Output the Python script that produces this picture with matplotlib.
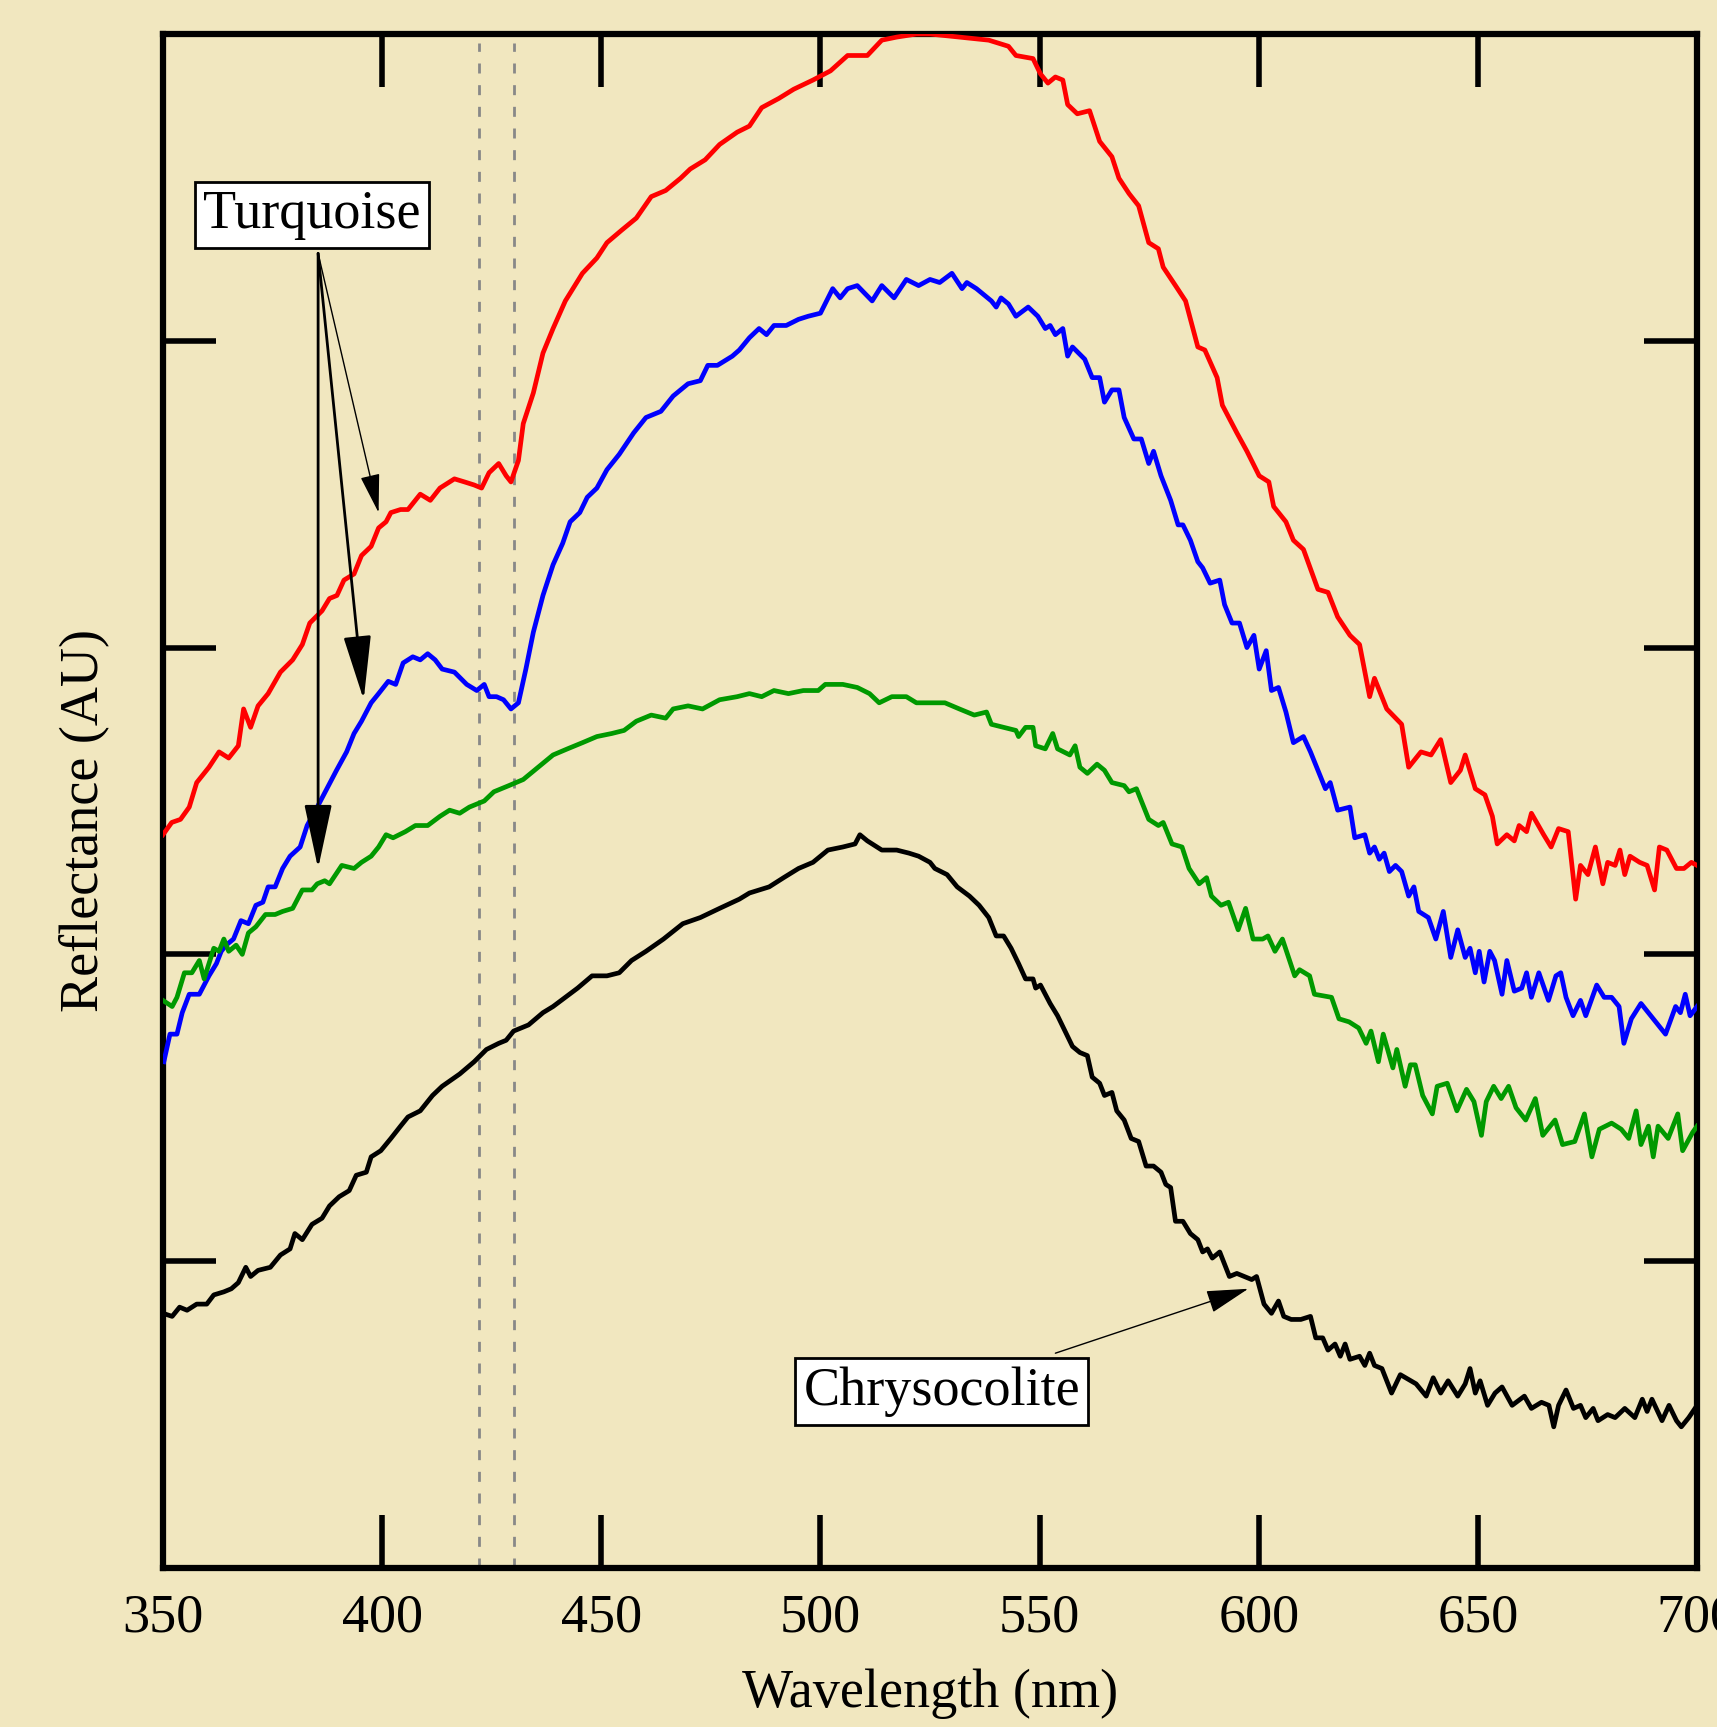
import numpy as np
import matplotlib.pyplot as plt

plt.rcParams['font.family'] = ['Liberation Serif', 'DejaVu Serif']

bg = '#f1e7bf'

# ---- spectra (wavelength nm, reflectance AU) ----
red_x = [350.0, 352.0, 354.0, 356.0, 357.7, 360.5, 362.8, 365.0, 367.2, 368.4,
         370.0, 371.7, 374.0, 376.8, 379.6, 381.8, 383.5, 386.3, 388.0, 389.7,
         391.3, 393.6, 395.3, 397.5, 399.2, 400.9, 402.0, 404.2, 405.9, 408.7,
         411.0, 413.2, 416.5, 418.8, 421.0, 422.7, 424.4, 426.6, 428.3, 429.4,
         431.1, 432.2, 434.5, 436.7, 439.0, 441.8, 445.7, 449.0, 451.3, 454.6,
         458.0, 461.4, 464.7, 468.1, 470.3, 473.7, 477.0, 481.0, 483.8, 486.6,
         490.5, 493.9, 498.3, 502.3, 506.2, 510.7, 514.0, 517.4, 521.9, 525.0,
         531.7, 538.4, 542.9, 544.6, 548.5, 550.2, 551.9, 553.6, 555.3, 556.4,
         558.6, 561.4, 563.7, 566.5, 568.1, 570.4, 572.6, 574.9, 577.1, 578.2,
         581.0, 583.3, 586.1, 587.7, 590.5, 591.7, 595.0, 597.3, 600.1, 602.3,
         603.4, 606.2, 607.9, 610.2, 613.5, 615.8, 618.0, 620.8, 623.0, 625.3,
         626.4, 629.2, 632.6, 634.2, 637.0, 639.3, 641.5, 643.8, 646.0, 647.1,
         649.4, 651.6, 653.3, 654.4, 656.6, 658.3, 659.4, 661.1, 662.2, 665.0,
         666.7, 668.4, 670.6, 672.3, 673.4, 675.1, 676.8, 678.5, 679.6, 681.3,
         682.4, 683.5, 684.7, 686.9, 688.6, 690.3, 691.4, 693.1, 695.3, 697.0,
         698.7, 700.0]
red_y = [2.39, 2.43, 2.44, 2.48, 2.56, 2.61, 2.66, 2.64, 2.68, 2.80,
         2.74, 2.81, 2.85, 2.92, 2.96, 3.01, 3.08, 3.12, 3.16, 3.17,
         3.22, 3.24, 3.30, 3.33, 3.39, 3.41, 3.44, 3.45, 3.45, 3.50,
         3.48, 3.52, 3.55, 3.54, 3.53, 3.52, 3.57, 3.60, 3.56, 3.54,
         3.61, 3.73, 3.83, 3.96, 4.04, 4.13, 4.22, 4.27, 4.32, 4.36,
         4.40, 4.47, 4.49, 4.53, 4.56, 4.59, 4.64, 4.68, 4.70, 4.76,
         4.79, 4.82, 4.85, 4.88, 4.93, 4.93, 4.98, 4.99, 5.00, 5.00,
         4.99, 4.98, 4.96, 4.93, 4.92, 4.87, 4.84, 4.86, 4.85, 4.77,
         4.74, 4.75, 4.65, 4.60, 4.53, 4.48, 4.44, 4.32, 4.30, 4.24,
         4.18, 4.13, 3.98, 3.97, 3.88, 3.79, 3.70, 3.64, 3.56, 3.54,
         3.46, 3.41, 3.35, 3.32, 3.19, 3.18, 3.10, 3.04, 3.01, 2.84,
         2.90, 2.80, 2.75, 2.61, 2.66, 2.65, 2.70, 2.56, 2.60, 2.65,
         2.54, 2.52, 2.45, 2.36, 2.39, 2.37, 2.42, 2.40, 2.46, 2.39,
         2.35, 2.41, 2.40, 2.18, 2.29, 2.26, 2.35, 2.23, 2.30, 2.29,
         2.34, 2.26, 2.32, 2.30, 2.29, 2.21, 2.35, 2.34, 2.28, 2.28,
         2.30, 2.29]

blue_x = [350.2, 351.6, 353.2, 354.4, 356.0, 358.3, 360.5, 362.2, 363.3, 364.4,
          366.1, 367.8, 369.5, 371.2, 372.8, 374.0, 375.6, 377.3, 379.0, 381.3,
          382.9, 385.2, 387.4, 389.6, 391.9, 393.6, 395.3, 397.5, 399.2, 401.4,
          403.1, 404.8, 407.0, 408.7, 410.4, 412.1, 413.7, 416.5, 419.3, 421.6,
          423.3, 424.4, 426.1, 427.7, 429.4, 431.1, 432.8, 434.5, 436.7, 439.0,
          441.2, 442.9, 445.1, 446.8, 449.0, 451.3, 454.1, 457.4, 460.2, 463.6,
          466.4, 469.8, 472.6, 474.3, 476.5, 479.9, 481.5, 483.8, 486.0, 487.7,
          489.4, 492.2, 495.0, 497.2, 500.0, 502.8, 504.5, 506.2, 508.4, 511.8,
          514.0, 516.8, 519.6, 522.4, 525.0, 527.2, 530.0, 532.3, 533.4, 535.6,
          539.0, 540.1, 541.2, 542.9, 544.6, 547.4, 549.6, 551.3, 552.4, 553.6,
          555.3, 556.4, 557.5, 560.3, 562.0, 563.7, 564.8, 566.5, 568.1, 569.3,
          571.5, 573.2, 574.9, 576.0, 577.7, 579.9, 581.6, 582.7, 584.4, 586.1,
          587.2, 588.9, 591.1, 592.2, 593.9, 595.6, 597.3, 598.9, 600.1, 601.7,
          602.9, 604.5, 606.2, 607.9, 610.2, 611.8, 613.5, 615.2, 616.3, 618.0,
          620.8, 621.9, 624.2, 625.3, 626.4, 627.5, 628.6, 629.8, 631.2, 632.6,
          634.2, 635.4, 636.5, 638.7, 640.4, 642.1, 643.8, 645.4, 647.1, 648.2,
          649.4, 650.3, 651.4, 652.7, 653.8, 655.5, 656.6, 658.3, 660.0, 661.1,
          662.2, 663.9, 666.1, 667.8, 668.9, 670.1, 671.7, 673.4, 674.6, 677.1,
          678.8, 680.5, 682.2, 683.3, 685.0, 687.2, 690.0, 692.8, 695.1, 696.2,
          697.3, 698.4, 700.0]
blue_y = [1.65, 1.74, 1.74, 1.81, 1.87, 1.87, 1.93, 1.97, 2.01, 2.03,
          2.05, 2.11, 2.10, 2.16, 2.17, 2.22, 2.22, 2.28, 2.32, 2.35,
          2.42, 2.48, 2.54, 2.60, 2.66, 2.72, 2.76, 2.82, 2.85, 2.89,
          2.88, 2.95, 2.97, 2.96, 2.98, 2.96, 2.93, 2.92, 2.88, 2.86,
          2.88, 2.84, 2.84, 2.83, 2.80, 2.82, 2.93, 3.05, 3.17, 3.27,
          3.34, 3.41, 3.44, 3.49, 3.52, 3.58, 3.63, 3.70, 3.75, 3.77,
          3.82, 3.86, 3.87, 3.92, 3.92, 3.95, 3.97, 4.01, 4.04, 4.02,
          4.05, 4.05, 4.07, 4.08, 4.09, 4.17, 4.14, 4.17, 4.18, 4.13,
          4.18, 4.14, 4.20, 4.18, 4.20, 4.19, 4.22, 4.17, 4.19, 4.17,
          4.13, 4.11, 4.14, 4.12, 4.08, 4.11, 4.08, 4.04, 4.05, 4.02,
          4.04, 3.95, 3.98, 3.94, 3.88, 3.88, 3.80, 3.84, 3.84, 3.75,
          3.68, 3.68, 3.60, 3.64, 3.56, 3.48, 3.40, 3.40, 3.35, 3.28,
          3.26, 3.21, 3.22, 3.14, 3.08, 3.08, 3.00, 3.04, 2.93, 2.99,
          2.86, 2.87, 2.79, 2.69, 2.71, 2.66, 2.60, 2.54, 2.56, 2.47,
          2.48, 2.38, 2.39, 2.33, 2.35, 2.31, 2.33, 2.27, 2.29, 2.27,
          2.19, 2.22, 2.14, 2.12, 2.05, 2.14, 1.99, 2.08, 1.99, 2.02,
          1.94, 2.01, 1.91, 2.01, 1.98, 1.87, 1.98, 1.88, 1.89, 1.94,
          1.86, 1.94, 1.85, 1.93, 1.94, 1.86, 1.80, 1.85, 1.80, 1.90,
          1.86, 1.86, 1.83, 1.71, 1.79, 1.84, 1.79, 1.74, 1.83, 1.81,
          1.87, 1.80, 1.83]

green_x = [350.0, 352.1, 353.2, 354.9, 356.6, 358.3, 359.4, 361.6, 362.8, 363.9,
           365.0, 366.7, 368.1, 369.5, 371.2, 373.4, 375.6, 377.3, 379.6, 381.8,
           384.0, 385.2, 386.9, 388.0, 390.8, 393.6, 395.3, 397.5, 399.2, 400.9,
           402.5, 405.3, 407.6, 410.4, 413.2, 415.4, 417.7, 419.9, 423.3, 425.5,
           428.9, 432.2, 435.6, 439.0, 442.3, 445.7, 449.0, 452.4, 455.2, 458.0,
           461.4, 464.7, 466.4, 469.8, 473.1, 477.0, 481.0, 483.8, 486.6, 489.4,
           492.7, 496.1, 499.5, 501.1, 505.1, 508.4, 511.2, 513.4, 516.3, 519.6,
           521.9, 525.0, 528.4, 531.7, 535.1, 537.9, 539.0, 541.8, 544.6, 545.2,
           546.8, 548.5, 549.1, 551.3, 553.0, 554.1, 556.9, 558.1, 559.2, 560.9,
           563.1, 564.8, 566.5, 569.3, 570.4, 572.1, 573.5, 574.9, 577.1, 578.2,
           580.2, 582.5, 584.1, 586.4, 588.1, 589.2, 591.4, 593.1, 595.3, 597.0,
           598.7, 600.9, 602.1, 603.7, 605.4, 608.2, 609.3, 611.6, 612.7, 616.6,
           618.3, 620.6, 622.8, 624.5, 625.6, 627.3, 628.4, 630.6, 631.5, 633.4,
           634.6, 635.7, 637.4, 639.6, 640.7, 643.0, 645.2, 647.4, 649.1, 650.8,
           651.9, 653.6, 655.3, 657.0, 658.7, 660.9, 663.1, 664.8, 667.6, 669.3,
           672.1, 674.3, 676.0, 677.7, 680.5, 682.7, 684.4, 686.1, 687.2, 688.9,
           690.0, 691.1, 693.4, 695.6, 696.7, 699.0, 700.0]
green_y = [1.85, 1.83, 1.86, 1.94, 1.94, 1.98, 1.92, 2.02, 2.01, 2.05,
           2.01, 2.03, 2.00, 2.07, 2.09, 2.13, 2.13, 2.14, 2.15, 2.21,
           2.21, 2.23, 2.24, 2.23, 2.29, 2.28, 2.30, 2.32, 2.35, 2.39,
           2.38, 2.40, 2.42, 2.42, 2.45, 2.47, 2.46, 2.48, 2.50, 2.53,
           2.55, 2.57, 2.61, 2.65, 2.67, 2.69, 2.71, 2.72, 2.73, 2.76,
           2.78, 2.77, 2.80, 2.81, 2.80, 2.83, 2.84, 2.85, 2.84, 2.86,
           2.85, 2.86, 2.86, 2.88, 2.88, 2.87, 2.85, 2.82, 2.84, 2.84,
           2.82, 2.82, 2.82, 2.80, 2.78, 2.79, 2.75, 2.74, 2.73, 2.71,
           2.74, 2.74, 2.68, 2.67, 2.72, 2.67, 2.65, 2.68, 2.61, 2.59,
           2.62, 2.60, 2.56, 2.55, 2.53, 2.54, 2.49, 2.44, 2.42, 2.43,
           2.36, 2.35, 2.28, 2.23, 2.25, 2.19, 2.16, 2.17, 2.08, 2.15,
           2.05, 2.05, 2.06, 2.01, 2.05, 1.93, 1.95, 1.93, 1.87, 1.86,
           1.79, 1.78, 1.76, 1.71, 1.75, 1.65, 1.74, 1.63, 1.69, 1.57,
           1.64, 1.64, 1.54, 1.48, 1.57, 1.58, 1.49, 1.56, 1.52, 1.41,
           1.52, 1.57, 1.53, 1.57, 1.50, 1.46, 1.53, 1.41, 1.46, 1.38,
           1.39, 1.48, 1.34, 1.43, 1.45, 1.43, 1.40, 1.49, 1.38, 1.44,
           1.34, 1.44, 1.40, 1.48, 1.36, 1.42, 1.44]

black_x = [350.0, 352.1, 353.8, 355.5, 357.7, 360.0, 361.6, 363.9, 365.6, 367.2,
           368.9, 370.0, 371.7, 374.5, 376.8, 379.0, 380.1, 381.8, 384.0, 386.3,
           388.0, 390.2, 392.5, 394.1, 396.4, 397.5, 399.7, 402.0, 404.2, 405.9,
           408.7, 411.5, 413.7, 417.7, 421.0, 423.8, 426.6, 428.3, 430.0, 433.4,
           436.7, 439.0, 441.8, 444.6, 447.9, 451.3, 454.1, 456.9, 460.2, 464.2,
           468.6, 472.6, 477.0, 481.5, 483.8, 488.3, 491.6, 495.0, 498.3, 501.7,
           505.1, 507.9, 509.0, 510.7, 514.0, 517.4, 520.2, 522.4, 525.0, 526.1,
           528.9, 531.2, 534.0, 536.2, 538.4, 540.1, 541.8, 543.5, 545.2, 546.8,
           548.5, 549.1, 550.2, 552.4, 554.1, 557.5, 559.2, 560.9, 562.0, 563.7,
           564.8, 566.5, 567.6, 569.3, 570.9, 572.6, 574.3, 576.0, 577.7, 578.8,
           579.9, 581.0, 582.7, 584.4, 586.1, 587.2, 588.3, 589.4, 591.1, 593.3,
           595.0, 596.7, 598.4, 599.5, 601.2, 602.9, 604.5, 605.7, 607.4, 609.6,
           611.8, 613.0, 614.6, 615.8, 617.4, 618.6, 619.7, 620.8, 623.0, 624.2,
           625.3, 626.4, 628.1, 630.3, 632.3, 635.9, 638.2, 639.8, 641.5, 643.2,
           645.4, 647.1, 648.2, 649.4, 650.5, 652.2, 653.9, 655.5, 657.8, 660.6,
           662.2, 664.5, 666.2, 667.3, 668.4, 670.1, 671.8, 673.4, 674.6, 676.3,
           677.4, 679.6, 681.3, 683.5, 685.8, 687.5, 688.6, 689.7, 692.0, 693.6,
           695.3, 696.4, 698.1, 700.0]
black_y = [0.83, 0.82, 0.85, 0.84, 0.86, 0.86, 0.89, 0.90, 0.91, 0.93,
           0.98, 0.95, 0.97, 0.98, 1.02, 1.04, 1.09, 1.07, 1.12, 1.14,
           1.18, 1.21, 1.23, 1.28, 1.29, 1.34, 1.36, 1.40, 1.44, 1.47,
           1.49, 1.54, 1.57, 1.61, 1.65, 1.69, 1.71, 1.72, 1.75, 1.77,
           1.81, 1.83, 1.86, 1.89, 1.93, 1.93, 1.94, 1.98, 2.01, 2.05,
           2.10, 2.12, 2.15, 2.18, 2.20, 2.22, 2.25, 2.28, 2.30, 2.34,
           2.35, 2.36, 2.39, 2.37, 2.34, 2.34, 2.33, 2.32, 2.30, 2.28,
           2.26, 2.22, 2.19, 2.16, 2.12, 2.06, 2.06, 2.02, 1.97, 1.92,
           1.92, 1.89, 1.90, 1.84, 1.80, 1.70, 1.68, 1.67, 1.60, 1.58,
           1.54, 1.55, 1.49, 1.46, 1.40, 1.39, 1.31, 1.31, 1.29, 1.25,
           1.24, 1.13, 1.13, 1.09, 1.07, 1.03, 1.04, 1.01, 1.03, 0.95,
           0.96, 0.95, 0.94, 0.95, 0.86, 0.83, 0.87, 0.82, 0.81, 0.81,
           0.82, 0.75, 0.75, 0.71, 0.73, 0.69, 0.73, 0.68, 0.69, 0.66,
           0.70, 0.66, 0.65, 0.57, 0.63, 0.60, 0.56, 0.62, 0.57, 0.61,
           0.56, 0.60, 0.65, 0.57, 0.61, 0.53, 0.57, 0.59, 0.53, 0.56,
           0.52, 0.54, 0.53, 0.46, 0.53, 0.58, 0.52, 0.53, 0.49, 0.52,
           0.48, 0.50, 0.49, 0.52, 0.49, 0.55, 0.51, 0.55, 0.48, 0.53,
           0.48, 0.46, 0.49, 0.53]

fig = plt.figure(figsize=(17.17, 17.27), dpi=100, facecolor=bg)
ax = fig.add_axes([0.0949, 0.0921, 0.8935, 0.8882])
ax.set_facecolor(bg)

lw = 3.4
ax.plot(red_x, red_y, color='#ff0000', lw=lw, zorder=3)
ax.plot(blue_x, blue_y, color='#0000ff', lw=lw, zorder=3)
ax.plot(green_x, green_y, color='#009900', lw=lw, zorder=3)
ax.plot(black_x, black_y, color='black', lw=lw, zorder=3)

# dashed guides
for xv in [422, 430]:
    ax.axvline(xv, ymin=0, ymax=0.994, color='#888888', lw=2,
               ls=(0, (3.6, 4.2)), zorder=1)

ax.set_xlim(350, 700)
ax.set_ylim(0, 5)
ax.set_xticks(np.arange(350, 701, 50))
ax.set_yticks([0, 1, 2, 3, 4, 5])
ax.set_yticklabels([])
ax.tick_params(direction='in', length=38, width=4, top=True, right=True,
               labelsize=39, pad=18)
for s in ax.spines.values():
    s.set_linewidth(4.5)

ax.set_xlabel('Wavelength (nm)', fontsize=39, labelpad=18)
ax.set_ylabel('Reflectance (AU)', fontsize=39)
ax.yaxis.set_label_coords(-0.035, 0.487)

box = dict(boxstyle='square,pad=0.15', fc='white', ec='black', lw=2)
ax.text(384.0, 4.41, 'Turquoise', fontsize=39, ha='center', va='center',
        bbox=box, zorder=5)
ax.text(527.7, 0.575, 'Chrysocolite', fontsize=39, ha='center', va='center',
        bbox=box, zorder=5)

start = (385.4, 4.285)
tq_arrows = [((399.2, 3.44), 1.0, '-|>,head_length=2.45,head_width=0.61'),
             ((395.8, 2.83), 2.0, '-|>,head_length=4.0,head_width=0.86'),
             ((385.4, 2.28), 2.0, '-|>,head_length=4.0,head_width=0.86')]
for end, alw, style in tq_arrows:
    ax.annotate('', xy=end, xytext=start,
                arrowprops=dict(arrowstyle=style, color='black', lw=alw,
                                shrinkA=0, shrinkB=0, mutation_scale=10),
                zorder=4)
ax.annotate('', xy=(597.6, 0.91), xytext=(553.6, 0.70),
            arrowprops=dict(arrowstyle='-|>,head_length=2.66,head_width=0.72',
                            color='black', lw=1.0, shrinkA=0, shrinkB=0,
                            mutation_scale=10), zorder=4)

fig.savefig('out.png', dpi=100, facecolor=bg)
